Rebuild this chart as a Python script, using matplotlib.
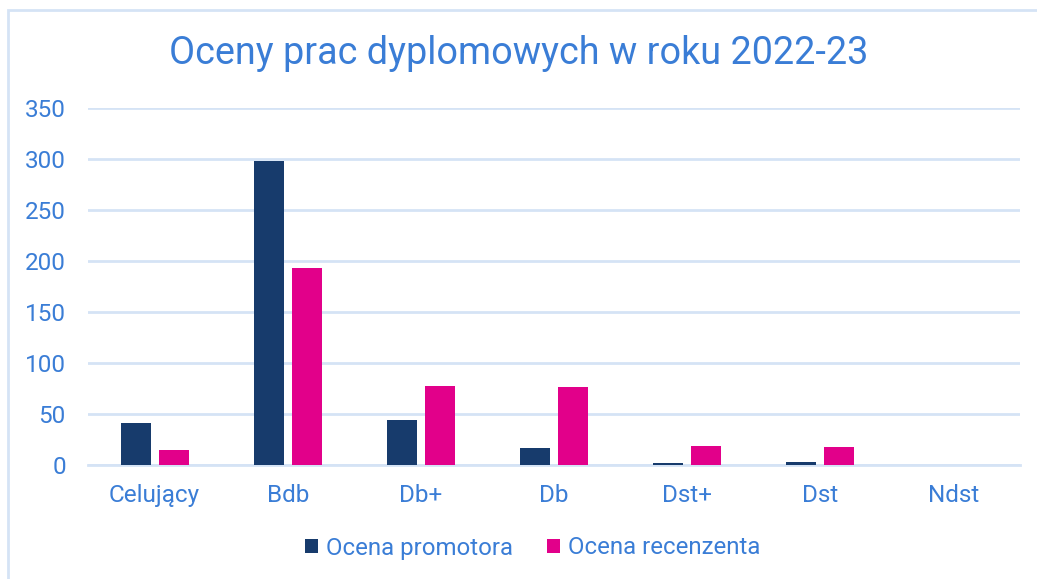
import matplotlib.pyplot as plt
import numpy as np
from matplotlib.patches import Rectangle

plt.rcParams['font.family'] = ['Roboto', 'DejaVu Sans']

categories = ["Celujący", "Bdb", "Db+", "Db", "Dst+", "Dst", "Ndst"]
promotor = [41, 298, 44, 16, 1, 2, 0]
recenzent = [14, 193, 77, 76, 18, 17, 0]
yticks = [0, 50, 100, 150, 200, 250, 300, 350]

textBlue = "#3A7DD6"
navy = "#173B6C"
magenta = "#E2008A"
gridColor = "#D5E3F5"

fig = plt.figure(figsize=(10.37, 5.79), dpi=100)
ax = fig.add_axes([88 / 1037, 1 - 464.5 / 579, 932 / 1037, 356.5 / 579])

# outer chart border (bleeds off right/bottom like the screenshot)
fig.patches.append(Rectangle((8 / 1037, -0.05), 1.1, 1 - 10 / 579 + 0.05,
                             transform=fig.transFigure, fill=False,
                             edgecolor=gridColor, linewidth=2))

x = np.arange(len(categories))
w = 0.225
off = 0.143
ax.bar(x - off, promotor, w, color=navy, label="Ocena promotora", zorder=3)
ax.bar(x + off, recenzent, w, color=magenta, label="Ocena recenzenta", zorder=3)

ax.set_xlim(-0.5, len(categories) - 0.5)
ax.set_ylim(0, 350)
ax.set_yticks(yticks)
ax.set_xticks(x)
ax.set_xticklabels(categories)
ax.yaxis.grid(True, color=gridColor, linewidth=2, zorder=0)
ax.tick_params(axis="both", length=0, labelsize=17.5, labelcolor=textBlue)
ax.tick_params(axis="y", pad=16)
ax.tick_params(axis="x", pad=14)
for s in ["top", "right", "left"]:
    ax.spines[s].set_visible(False)
ax.spines["bottom"].set_color(gridColor)
ax.spines["bottom"].set_linewidth(2)

fig.text(0.5, 1 - 53 / 579, "Oceny prac dyplomowych w roku 2022-23",
         ha="center", va="center", fontsize=27.2, color=textBlue)

leg = fig.legend(loc="center", bbox_to_anchor=(0.5137, 1 - 548 / 579), ncol=2,
                 frameon=False, fontsize=17.3, handlelength=0.55, handleheight=0.55,
                 handletextpad=0.35, columnspacing=1.38)
for t in leg.get_texts():
    t.set_color(textBlue)

fig.savefig("out.png", dpi=100)
